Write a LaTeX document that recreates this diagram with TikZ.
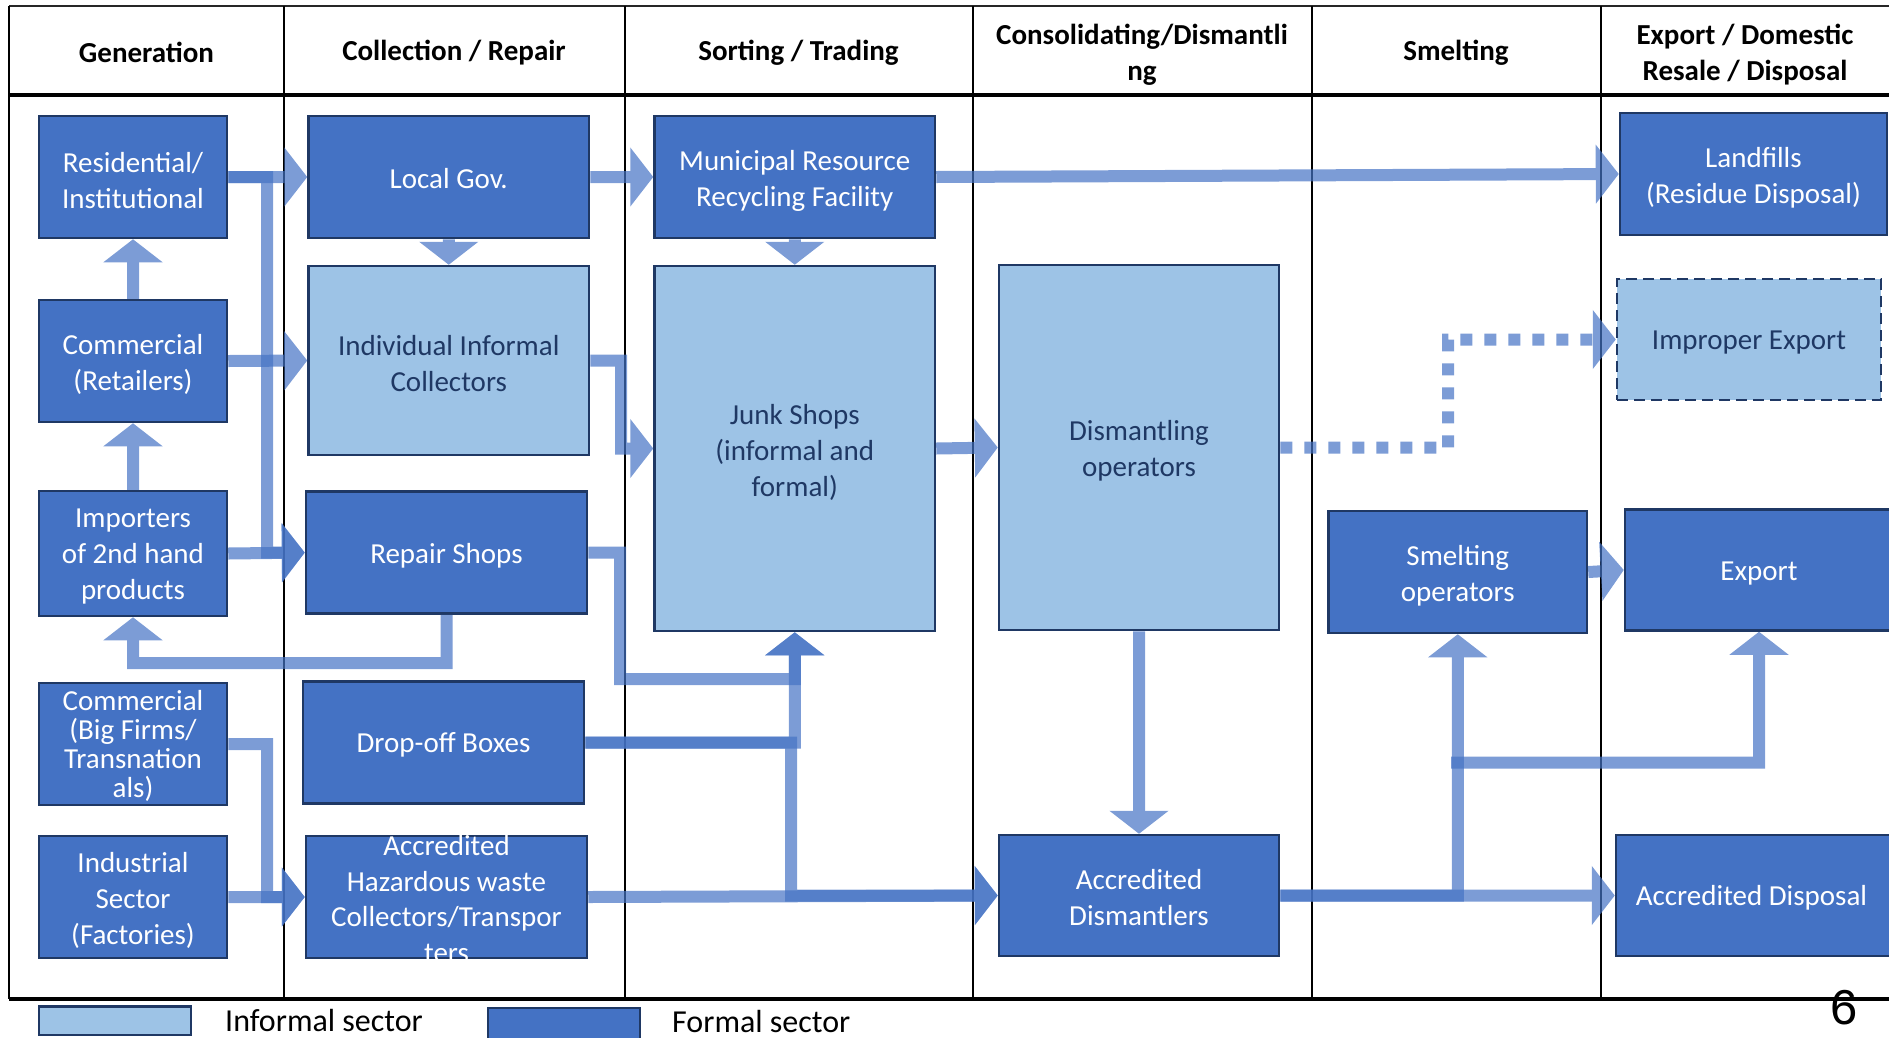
\documentclass[tikz,border=0pt]{standalone}
\usepackage{fontspec}
\setmainfont{Carlito}
\newfontfamily\digitfont{Liberation Sans}
\usetikzlibrary{arrows.meta}
\definecolor{formalC}{HTML}{4472C4}
\definecolor{informalC}{HTML}{9DC3E6}
\definecolor{edgeC}{HTML}{1F3864}
\definecolor{flowC}{HTML}{4472C4}
\definecolor{darktext}{HTML}{1F3864}
\tikzset{
  boxbase/.style={draw=edgeC, line width=2.5pt, inner sep=0pt, anchor=center,
    minimum width=188pt, minimum height=122pt},
  formal/.style={boxbase, fill=formalC},
  informal/.style={boxbase, fill=informalC},
  boxtext/.style={align=center, font=\fontsize{29}{36}\selectfont, inner sep=0pt},
  wtext/.style={boxtext, text=white},
  dtext/.style={boxtext, text=darktext},
  flow/.style={draw=flowC, line width=12pt, line cap=butt, -{Triangle[length=23pt,width=58pt]}},
  dotflow/.style={dash pattern=on 12pt off 12pt},
  head/.style={font=\bfseries\fontsize{29}{36}\selectfont, align=center, text=black, inner sep=0pt},
  gridline/.style={draw=black, line width=2pt},
  legtext/.style={font=\fontsize{32}{38}\selectfont, anchor=base west, inner sep=0pt}
}
\newcommand\flowpath[2][]{\begin{scope}[transparency group, opacity=0.7]\draw[flow,#1] #2;\end{scope}}
\begin{document}
\begin{tikzpicture}[x=1pt,y=-1pt]
\useasboundingbox (0,0) rectangle (1889,1037);
% frame
\draw[gridline, line width=2.5pt, draw=black!85] (9,6) -- (1889,6);
\draw[gridline, line width=4pt] (9,94.5) -- (1889,94.5);
\draw[gridline, line width=3.5pt] (9,999) -- (1889,999);
\foreach \xx in {9,284,624.5,972.5,1312,1600.5}{\draw[gridline] (\xx,6) -- (\xx,999);}
% headers
\node[head] (h1) at (146.5,52.5) {Generation};
\node[head] (h2) at (454,52.5) {Collection / Repair};
\node[head] (h3) at (798.5,52.5) {Sorting / Trading};
\node[head] (h4) at (1142,54.5) {Consolidating/Dismantli\\ng};
\node[head] (h5) at (1456,52.5) {Smelting};
\node[head] (h6) at (1745,54.5) {Export / Domestic\\Resale / Disposal};
% boxes
\node[formal] (res) at (133,177) {};
\node[wtext] (res-t) at ([yshift=-3.5pt]res.center) {Residential/\\Institutional};
\node[formal] (comr) at (133,361) {};
\node[wtext] (comr-t) at ([yshift=-3.5pt]comr.center) {Commercial\\(Retailers)};
\node[formal, minimum height=125pt] (imp) at (133,553.5) {};
\node[wtext] (imp-t) at ([yshift=-3pt]imp.center) {Importers\\of 2nd hand\\products};
\node[formal] (cbf) at (133,744) {};
\node[wtext, font=\fontsize{29}{29}\selectfont] (cbf-t) at ([yshift=-1.5pt]cbf.center) {Commercial\\(Big Firms/\\Transnation\\als)};
\node[formal] (ind) at (133,897) {};
\node[wtext] (ind-t) at ([yshift=-3pt]ind.center) {Industrial\\Sector\\(Factories)};
\node[formal, minimum width=280.5pt] (lgov) at (448.75,177) {};
\node[wtext] (lgov-t) at ([yshift=-2pt]lgov.center) {Local Gov.};
\node[informal, minimum width=280.5pt, minimum height=189pt] (iic) at (448.75,360.5) {};
\node[dtext] (iic-t) at ([yshift=-3.5pt]iic.center) {Individual Informal\\Collectors};
\node[formal, minimum width=281pt] (rep) at (446.5,552.6) {};
\node[wtext] (rep-t) at ([yshift=-3.5pt]rep.center) {Repair Shops};
\node[formal, minimum width=281pt] (drop) at (443.5,742.5) {};
\node[wtext] (drop-t) at ([yshift=-2.5pt]drop.center) {Drop-off Boxes};
\node[formal, minimum width=281pt] (haz) at (446.5,897) {};
\node[wtext, font=\fontsize{29}{35.5}\selectfont] (haz-t) at ([yshift=-2pt]haz.center) {Accredited\\Hazardous waste\\Collectors/Transpor\\ters};
\node[formal, minimum width=280.5pt] (mrf) at (794.75,177) {};
\node[wtext] (mrf-t) at ([yshift=-3.5pt]mrf.center) {Municipal Resource\\Recycling Facility};
\node[informal, minimum width=280.5pt, minimum height=365pt] (junk) at (794.75,448.5) {};
\node[dtext] (junk-t) at ([yshift=-4pt]junk.center) {Junk Shops\\(informal and\\formal)};
\node[informal, minimum width=280pt, minimum height=365pt] (dops) at (1139,447.5) {};
\node[dtext] (dops-t) at ([yshift=-3.5pt]dops.center) {Dismantling\\operators};
\node[formal, minimum width=280pt, minimum height=121pt] (adis) at (1139,895.5) {};
\node[wtext] (adis-t) at ([yshift=-2.5pt]adis.center) {Accredited\\Dismantlers};
\node[formal, minimum width=267pt] (land) at (1753.5,174) {};
\node[wtext] (land-t) at ([yshift=-4pt]land.center) {Landfills\\(Residue Disposal)};
\node[informal, dash pattern=on 11pt off 6pt, minimum width=264pt, minimum height=121pt] (impx) at (1749,339.5) {};
\node[dtext] (impx-t) at ([yshift=-3pt]impx.center) {Improper Export};
\node[formal, minimum width=258.5pt] (smelt) at (1457.75,572) {};
\node[wtext] (smelt-t) at ([yshift=-3.5pt]smelt.center) {Smelting\\operators};
\node[formal, minimum width=268pt, minimum height=121pt] (expo) at (1759,570) {};
\node[wtext] (expo-t) at ([yshift=-3.5pt]expo.center) {Export};
\node[formal, minimum width=277pt, minimum height=121pt] (adsp) at (1754.5,895.5) {};
\node[wtext] (adsp-t) at ([yshift=-2pt,xshift=-3pt]adsp.center) {Accredited Disposal};
% flows
\flowpath{(res.east) -- (lgov.west)}
\flowpath{(res.east) -- (267,177) |- (rep.west)}
\flowpath{(comr.east) -- (iic.west)}
\flowpath{(imp.east) -- (rep.west)}
\flowpath{(comr.north) -- (res.south)}
\flowpath{(imp.north) -- (comr.south)}
\flowpath{(rep.south) -- (446.5,663) -| (imp.south)}
\flowpath{(cbf.east) -- (267,744) |- (haz.west)}
\flowpath{(ind.east) -- (haz.west)}
\flowpath{(lgov.east) -- (mrf.west)}
\flowpath{(lgov.south) -- (iic.north)}
\flowpath{(mrf.south) -- (junk.north)}
\flowpath{(mrf.east) -- (land.west)}
\flowpath{(iic.east) -- (621,360.5) |- (junk.west)}
\flowpath{(rep.east) -- (620,552.6) -- (620,679) -| (junk.south)}
\flowpath{(drop.east) -| (junk.south)}
\flowpath{(drop.east) -- (791,742.5) |- (adis.west)}
\flowpath{(haz.east) -- (adis.west)}
\flowpath{(junk.east) -- (dops.west)}
\flowpath{(dops.south) -- (adis.north)}
\flowpath[dotflow]{(dops.east) -- (1448,447.5) |- (impx.west)}
\flowpath{(adis.east) -- (adsp.west)}
\flowpath{(adis.east) -| (smelt.south)}
\coordinate (br) at (1451,762.5);
\flowpath{(br) -| (expo.south)}
\flowpath{(smelt.east) -- (expo.west)}
% legend
\node[informal, minimum width=152pt, minimum height=28.5pt] (leg1) at (115,1020.75) {};
\node[formal, minimum width=152pt, minimum height=32pt] (leg2) at (564,1024) {};
\node[legtext] (leg1t) at (225,1031) {Informal sector};
\node[legtext] (leg2t) at (672,1032) {Formal sector};
\node[font=\digitfont\fontsize{49}{55}\selectfont, inner sep=0pt] (pg) at (1844,1008) {6};
\end{tikzpicture}
\end{document}
